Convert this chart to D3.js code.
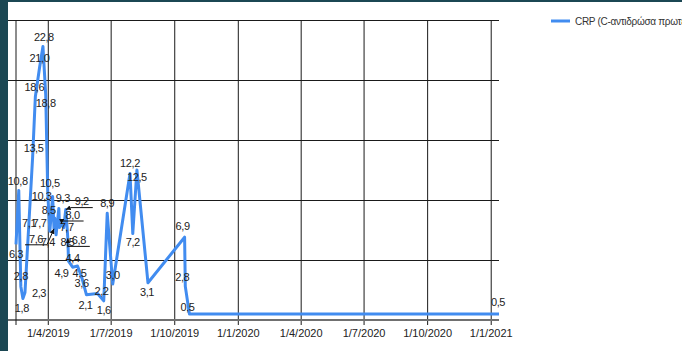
<!DOCTYPE html>
<html><head><meta charset="utf-8">
<script src="https://cdn.jsdelivr.net/npm/d3@7"></script>
<style>
html,body{margin:0;padding:0;background:#1b4753;overflow:hidden}
svg{display:block}
text{font-family:"Liberation Sans",Arial,sans-serif}
</style></head><body>
<svg id="chart" width="682" height="351"></svg>
<script>
// CRP measurements (mg/L) by sample date
const seriesName = "CRP (C-αντιδρώσα πρωτεΐνη)";
const sampleDates = [
  "2019-02-14","2019-02-18","2019-02-21","2019-02-24","2019-02-27","2019-03-10",
  "2019-03-14","2019-03-20","2019-03-25","2019-03-29","2019-04-01","2019-04-04",
  "2019-04-08","2019-04-10","2019-04-11","2019-04-13","2019-04-17","2019-04-18",
  "2019-04-21","2019-04-24","2019-04-27","2019-04-28","2019-04-30","2019-05-01",
  "2019-05-07","2019-05-14","2019-05-20","2019-05-27","2019-06-12","2019-06-21",
  "2019-06-26","2019-07-04","2019-07-29","2019-08-02","2019-08-08","2019-08-24",
  "2019-10-16","2019-10-17","2019-10-23","2021-01-13"
];
const crpValues = [
  6.3, 10.8, 2.8, 1.8, 2.3, 13.5,
  18.6, 21.0, 22.8, 18.8, 10.5, 7.4,
  10.3, 7.6, 8.5, 7.1, 9.3, 7.7,
  8.0, 7.7, 9.2, 8.5, 6.8, 4.9,
  4.4, 4.5, 3.6, 2.1, 2.2, 1.6,
  8.9, 3.0, 12.2, 7.2, 12.5, 3.1,
  6.9, 2.8, 0.5, 0.5
];
const xTickDates = ["2019-04-01","2019-07-01","2019-10-01","2020-01-01","2020-04-01","2020-07-01","2020-10-01","2021-01-01"];
const yTickValues = [0, 5, 10, 15, 20, 25];

// label placement relative to each point: [dx, dy, callout]
const labelShift = [
  [0,10],[-1,-9],[0,-10],[-1,10],[14,1],[1,-10],
  [-1,-10],[0,-10],[1,-9],[0,9],[2,-11],[-2,11],
  [-11,0],[-18,10,1],[-6,-8],[-27,-12],[4,-10],[-20,-4],
  [11,-9,1],[3,0],[16,-8,1],[1,24],[11,2,1],[-7,12],
  [0,-9],[2,7],[0,6],[-1,10],[4,-2],[0,9],
  [0,-10],[0,-9],[0,-10],[0,9],[0,7],[-1,9],
  [-2,-11],[-3,-9],[-2,-7],[-1,-12]
];

const parse = d3.utcParse("%Y-%m-%d");
const data = sampleDates.map((d, i) => ({date: parse(d), value: crpValues[i], shift: labelShift[i]}));

const svg = d3.select("#chart");
const W = 682, H = 351;
const plot = {left: 16, right: 499, top: 20, bottom: 320};

svg.append("defs").append("marker")
  .attr("id", "arrow").attr("viewBox", "0 0 6 6").attr("refX", 6).attr("refY", 3)
  .attr("markerWidth", 5).attr("markerHeight", 5).attr("orient", "auto")
  .append("path").attr("d", "M0,0L6,3L0,6Z").attr("fill", "#111");

svg.append("rect").attr("width", W).attr("height", H).attr("fill", "#1b4753");
svg.append("rect").attr("x", 8).attr("y", 2).attr("width", W - 8).attr("height", H - 2).attr("fill", "#ffffff");

const x = d3.scaleUtc()
  .domain(d3.extent(data, d => d.date))
  .range([plot.left, plot.right]);
const y = d3.scaleLinear().domain([0, 25]).range([plot.bottom, plot.top]);

// horizontal gridlines, with short outer ticks on the left
svg.append("g")
  .attr("transform", `translate(${plot.right},0)`)
  .call(d3.axisLeft(y).tickValues(yTickValues).tickSize(plot.right - 8).tickFormat(""))
  .call(g => g.select(".domain").remove())
  .call(g => g.selectAll(".tick line").attr("stroke", "#1a1a1a").attr("stroke-width", 1));

// vertical gridlines
svg.append("g")
  .attr("transform", `translate(0,${plot.bottom})`)
  .call(d3.axisBottom(x).tickValues(xTickDates.map(parse)).tickSize(-(plot.bottom - plot.top)).tickFormat(""))
  .call(g => g.select(".domain").remove())
  .call(g => g.selectAll(".tick line").attr("stroke", "#1a1a1a").attr("stroke-width", 1));

// date axis with ticks and labels
const fmtDate = d => `${d.getUTCDate()}/${d.getUTCMonth() + 1}/${d.getUTCFullYear()}`;
svg.append("g")
  .attr("transform", `translate(0,${plot.bottom})`)
  .call(d3.axisBottom(x).tickValues(xTickDates.map(parse)).tickSize(5).tickPadding(4).tickFormat(fmtDate))
  .call(g => g.select(".domain").remove())
  .call(g => g.selectAll(".tick line").attr("stroke", "#1a1a1a"))
  .call(g => g.selectAll(".tick text").attr("fill", "#222").attr("font-size", 11)
      .attr("font-family", "Liberation Sans, Arial, sans-serif"));

// axis lines
svg.append("line").attr("x1", 8).attr("x2", plot.right).attr("y1", plot.bottom).attr("y2", plot.bottom)
  .attr("stroke", "#707070").attr("stroke-width", 2);
svg.append("line").attr("x1", plot.left).attr("x2", plot.left).attr("y1", plot.top).attr("y2", plot.bottom + 5)
  .attr("stroke", "#1a1a1a").attr("stroke-width", 1);

// series line
const line = d3.line().x(d => x(d.date)).y(d => y(d.value));
svg.append("path").datum(data)
  .attr("d", line)
  .attr("fill", "none")
  .attr("stroke", "#418CF0")
  .attr("stroke-width", 3)
  .attr("stroke-linejoin", "round");

// value labels
const fmtVal = v => d3.format(".1f")(v).replace(".", ",");
const labels = svg.append("g");
labels.selectAll("text").data(data).join("text")
  .attr("x", d => x(d.date) + d.shift[0])
  .attr("y", d => y(d.value) + d.shift[1])
  .attr("dy", "0.35em")
  .attr("text-anchor", "middle")
  .attr("font-size", 11)
  .attr("letter-spacing", -0.4)
  .attr("fill", "#222")
  .text(d => fmtVal(d.value));

// callouts for labels pushed away from their points: underline plus arrow
const callouts = data.filter(d => d.shift[2]);
callouts.forEach(d => {
  const px = x(d.date), py = y(d.value);
  const lx = px + d.shift[0], ly = y(d.value) + d.shift[1] + 6;
  const half = 11;
  const ex = px < lx ? lx - half : lx + half;
  labels.append("line").attr("x1", lx - half).attr("x2", lx + half).attr("y1", ly).attr("y2", ly)
    .attr("stroke", "#111").attr("stroke-width", 1);
  labels.append("line").attr("x1", ex).attr("y1", ly).attr("x2", px).attr("y2", py)
    .attr("stroke", "#111").attr("stroke-width", 1).attr("marker-end", "url(#arrow)");
});

// legend
const lg = svg.append("g").attr("transform", "translate(551,21)");
lg.append("line").attr("x1", 0).attr("x2", 19).attr("stroke", "#418CF0").attr("stroke-width", 3);
lg.append("text").attr("x", 24).attr("y", 0).attr("dy", "0.35em").attr("font-size", 10)
  .attr("letter-spacing", -0.3).attr("fill", "#333").text(seriesName);
</script>
</body></html>
